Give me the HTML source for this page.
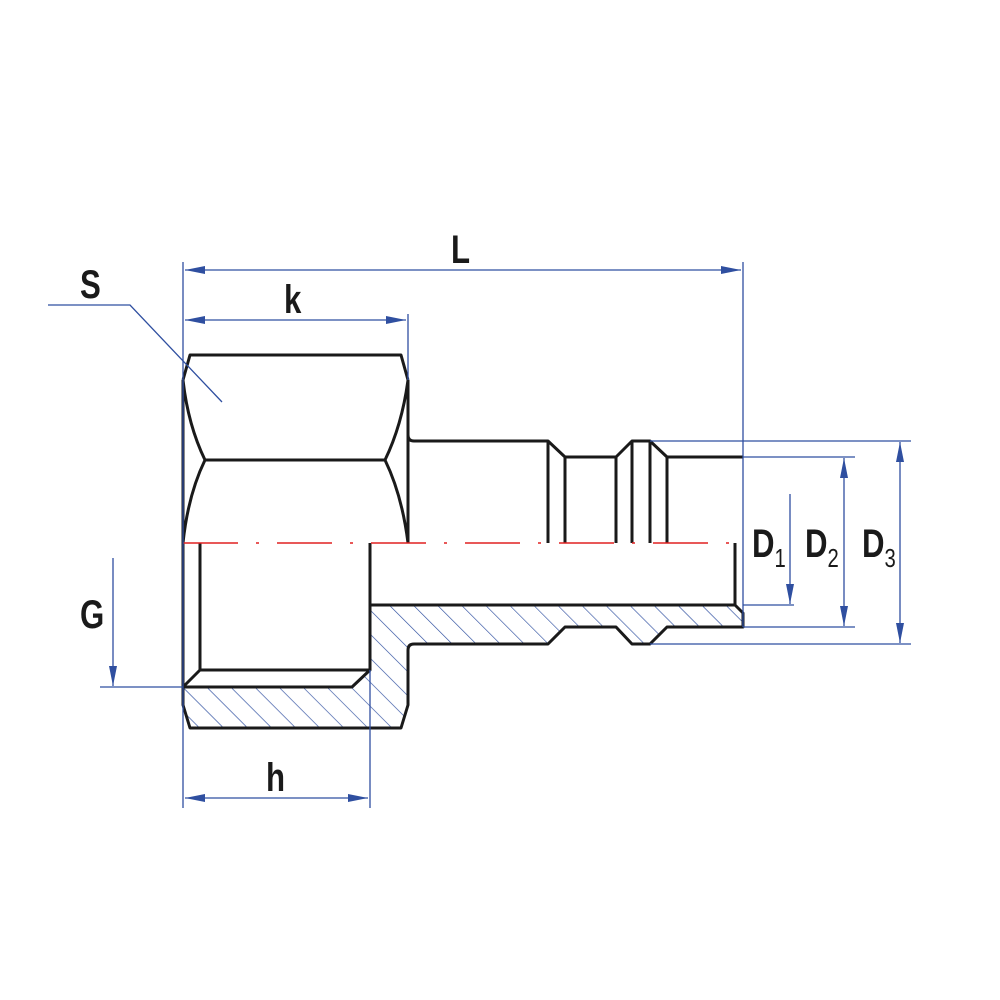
<!DOCTYPE html>
<html><head><style>html,body{margin:0;padding:0;background:#fff;width:1000px;height:1000px;overflow:hidden}
text{font-family:"Liberation Sans",sans-serif;font-weight:bold;fill:#1a1a1a}</style></head>
<body>
<svg width="1000" height="1000" viewBox="0 0 1000 1000" xmlns="http://www.w3.org/2000/svg">
<defs>
<pattern id="h" patternUnits="userSpaceOnUse" width="17" height="17" patternTransform="rotate(-45)">
<line x1="0" y1="0" x2="0" y2="17" stroke="#2f4fa0" stroke-width="1.3"/>
</pattern>
<marker id="a" viewBox="0 0 20 8" refX="20" refY="4" markerWidth="20" markerHeight="8" markerUnits="userSpaceOnUse" orient="auto-start-reverse">
<path d="M0,0 L20,4 L0,8 Z" fill="#2f4fa0"/></marker>
</defs>
<path d="M183,687 L352,687 L370,670 L370,605 L735,605 L743,613 L743,627 L667,627 L650,644 L632,644 L616,627 L565,627 L548,644 L413,644 Q408,644 408,650 L408,705 L401,728 L190,728 L183,705 Z" fill="url(#h)"/>
<g fill="none" stroke="#1a1a1a" stroke-width="3" stroke-linejoin="round">
<path d="M183,380 L190,355 L401,355 L408,380"/>
<path d="M183,380 Q188,425 205,460 L385,460 Q402,425 408,380"/>
<path d="M205,460 Q188,495 183,543"/>
<path d="M385,460 Q402,495 408,543"/>
<line x1="408" y1="380" x2="408" y2="543"/>
<line x1="183" y1="380" x2="183" y2="543"/>
<path d="M408,435 Q408,441 414,441 L548,441 L565,457 L616,457 L632,441 L650,441 L667,457 L743,457"/>
<line x1="548" y1="441" x2="548" y2="543"/>
<line x1="565" y1="457" x2="565" y2="543"/>
<line x1="616" y1="457" x2="616" y2="543"/>
<line x1="632" y1="441" x2="632" y2="543"/>
<line x1="650" y1="441" x2="650" y2="543"/>
<line x1="667" y1="457" x2="667" y2="543"/>
<path d="M183,543 L183,705 L190,728 L401,728 L408,705 L408,650 Q408,644 414,644 L548,644 L565,627 L616,627 L632,644 L650,644 L667,627 L743,627 L743,613 L735,605 L735,543"/>
<path d="M200,543 L200,670 L370,670 L370,543"/>
<path d="M370,605 L735,605"/>
<path d="M200,670 L183,687 L352,687 L370,670"/>
</g>
<line x1="183" y1="543" x2="740" y2="543" stroke="#e02020" stroke-width="1.5" stroke-dasharray="55,18,3,18"/>
<g stroke="#2f4fa0" stroke-width="1.3" fill="none">
<line x1="183" y1="262" x2="183" y2="808"/>
<line x1="743" y1="262" x2="743" y2="627"/>
<line x1="408" y1="314" x2="408" y2="380"/>
<line x1="370" y1="670" x2="370" y2="808"/>
<line x1="185" y1="270" x2="741" y2="270" marker-start="url(#a)" marker-end="url(#a)"/>
<line x1="185" y1="320" x2="406" y2="320" marker-start="url(#a)" marker-end="url(#a)"/>
<line x1="185" y1="798" x2="368" y2="798" marker-start="url(#a)" marker-end="url(#a)"/>
<line x1="100" y1="687" x2="183" y2="687"/>
<line x1="113" y1="558" x2="113" y2="686" marker-end="url(#a)"/>
<polyline points="48,305 130,305 222,402"/>
<line x1="743" y1="605" x2="794" y2="605"/>
<line x1="790" y1="494" x2="790" y2="604" marker-end="url(#a)"/>
<line x1="743" y1="457" x2="855" y2="457"/>
<line x1="743" y1="627" x2="855" y2="627"/>
<line x1="844" y1="458" x2="844" y2="626" marker-start="url(#a)" marker-end="url(#a)"/>
<line x1="650" y1="441" x2="911" y2="441"/>
<line x1="650" y1="644" x2="911" y2="644"/>
<line x1="900" y1="442" x2="900" y2="643" marker-start="url(#a)" marker-end="url(#a)"/>
</g>
<g font-size="40">
<text transform="translate(451,263) scale(0.78,1)">L</text>
<text transform="translate(284,313) scale(0.78,1)">k</text>
<text transform="translate(80,298) scale(0.78,1)">S</text>
<text transform="translate(80,628) scale(0.78,1)">G</text>
<text transform="translate(266,791) scale(0.78,1)">h</text>
<text transform="translate(752,557) scale(0.78,1)">D<tspan font-size="26" font-weight="normal" dy="10">1</tspan></text>
<text transform="translate(805,557) scale(0.78,1)">D<tspan font-size="26" font-weight="normal" dy="10">2</tspan></text>
<text transform="translate(862,557) scale(0.78,1)">D<tspan font-size="26" font-weight="normal" dy="10">3</tspan></text>
</g>
</svg>
</body></html>
